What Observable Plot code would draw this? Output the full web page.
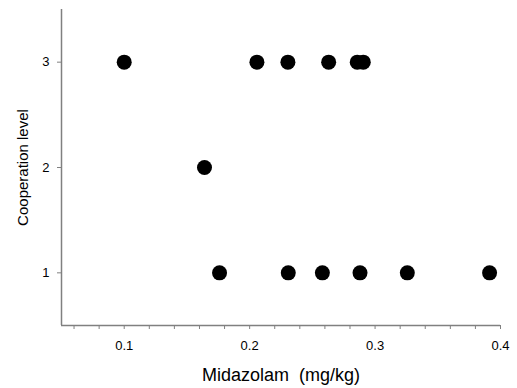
<!DOCTYPE html>
<html><head><meta charset="utf-8">
<script src="https://cdn.jsdelivr.net/npm/d3@7"></script>
<script src="https://cdn.jsdelivr.net/npm/@observablehq/plot@0.6"></script>
<style>body{margin:0;background:#fff;}</style>
</head><body><div id="chart"></div>
<script>
const dose = [0.100, 0.2058, 0.2305, 0.263, 0.2858, 0.2906, 0.164, 0.176, 0.2308, 0.258, 0.288, 0.3257, 0.3913];
const level = [3, 3, 3, 3, 3, 3, 2, 1, 1, 1, 1, 1, 1];
const xDomain = [0.05, 0.4];
const yDomain = [0.5, 3.5];
const xMajor = [0.1, 0.2, 0.3, 0.4];
const xMinor = [0.06, 0.08, 0.1, 0.12, 0.14, 0.16, 0.18, 0.2, 0.22, 0.24, 0.26, 0.28, 0.3, 0.32, 0.34, 0.36, 0.38, 0.4];
const yTicks = [1, 2, 3];

const data = dose.map((d, i) => ({dose: d, level: level[i]}));
const axisColor = "#808080";

const chart = Plot.plot({
  width: 517, height: 388,
  marginLeft: 61, marginRight: 17, marginTop: 9, marginBottom: 63,
  style: {fontFamily: "'Liberation Sans', Arial, sans-serif", fontSize: "13px", color: "#000", background: "#fff"},
  x: {domain: xDomain},
  y: {domain: yDomain},
  marks: [
    Plot.axisX({ticks: xMinor, tickSize: 4, stroke: axisColor, text: null, label: null}),
    Plot.axisX({ticks: xMajor, tickSize: 0, tickPadding: 15, tickFormat: d => String(d), label: "Midazolam\u00a0 (mg/kg)", labelAnchor: "center", labelArrow: "none", labelOffset: 55}),
    Plot.axisY({ticks: yTicks, tickSize: 4, stroke: axisColor, tickPadding: 8, tickFormat: d => String(d), label: "Cooperation level", labelAnchor: "center", labelArrow: "none", labelOffset: 44}),
    Plot.ruleX([xDomain[0]], {stroke: axisColor, strokeWidth: 1.5}),
    Plot.ruleY([yDomain[0]], {stroke: axisColor, strokeWidth: 1.5}),
    Plot.dot(data, {x: "dose", y: "level", r: 7.5, fill: "#000", stroke: "none"})
  ]
});
const sel = d3.select(chart);
sel.selectAll('g[aria-label="x-axis tick label"] text, g[aria-label="y-axis tick label"] text').style("font-size", "13px");
sel.selectAll('g[aria-label="x-axis tick label"], g[aria-label="y-axis tick label"]').style("font-size", "13px");
sel.selectAll('g[aria-label="x-axis label"] text').style("font-size", "18px");
sel.selectAll('g[aria-label="y-axis label"] text').style("font-size", "15px");
document.getElementById("chart").append(chart);
</script>
</body></html>
